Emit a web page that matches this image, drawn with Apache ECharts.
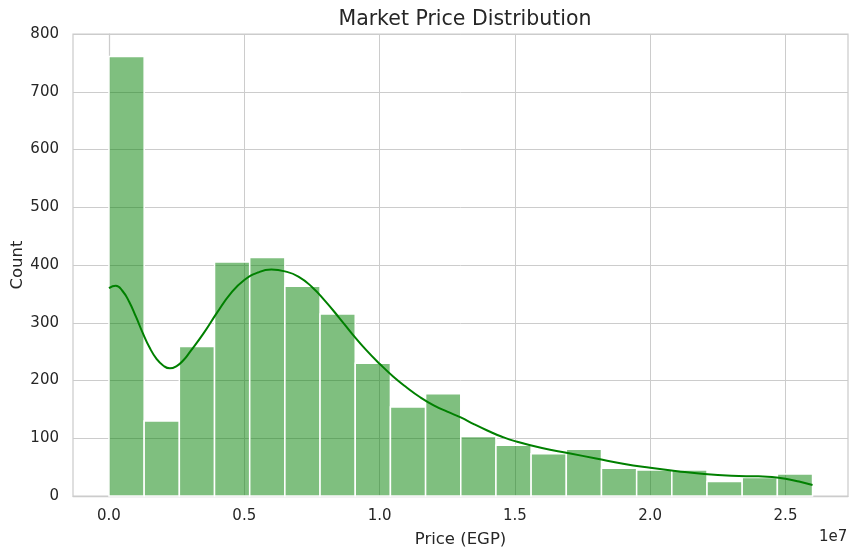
<!DOCTYPE html>
<html>
<head>
    <meta charset="utf-8">
    <title>Market Price Distribution</title>
    <script src="https://cdn.jsdelivr.net/npm/echarts@6/dist/echarts.min.js"></script>
</head>
<body style="margin:0;background:#fff">
<div id="main" style="width:858px;height:555px;"></div>
<script>
    // bin edges, in millions of EGP (axis shows them in units of 1e7)
    var binEdges = [0, 1.3, 2.6, 3.9, 5.2, 6.5, 7.8, 9.1, 10.4, 11.7, 13.0,
                    14.3, 15.6, 16.9, 18.2, 19.5, 20.8, 22.1, 23.4, 24.7, 26.0];
    var counts = [761, 130, 259, 405, 413, 363, 315, 230, 154, 177,
                  103, 88, 73, 81, 48, 45, 45, 25, 32, 38];

    // kde curve (x in millions, y in counts)
    var kdeX = [0, 0.25, 0.5, 0.75, 1.0, 1.25, 1.5, 1.75, 2.0, 2.25, 2.5, 2.75, 3.0, 3.5,
                4.0, 4.5, 5.0, 5.5, 6.0, 6.5, 7.0, 7.5, 8.0, 8.5, 9.0, 9.5, 10, 10.5,
                11, 11.5, 12, 12.5, 13, 13.5, 14, 14.5, 15, 16, 17, 18, 19, 20, 21, 22,
                23, 24, 24.5, 25, 25.5, 26];
    var kdeY = [360, 364, 355, 336, 310, 282, 257, 238, 226, 221, 225, 235, 250, 282,
                318, 351, 374, 387, 392, 389, 380, 362, 337, 309, 280, 253, 229, 207,
                188, 171, 157, 146, 136, 124, 113, 103, 95, 83, 74, 65, 56, 49, 43, 38,
                35, 34, 33, 30, 25, 19];

    var xTicks = [0, 5, 10, 15, 20, 25];

    var bars = [];
    for (var i = 0; i < counts.length; i++) {
        bars.push([binEdges[i], binEdges[i + 1], counts[i]]);
    }
    var kde = [];
    for (var j = 0; j < kdeX.length; j++) {
        kde.push([kdeX[j], kdeY[j]]);
    }

    var myChart = echarts.init(document.getElementById('main'));
    var txt = '#262626';
    var option = {
        animation: false,
        backgroundColor: '#fff',
        textStyle: {fontFamily: 'DejaVu Sans'},
        title: {
            text: 'Market Price Distribution',
            left: 460,
            textAlign: 'center',
            top: 4,
            textStyle: {fontSize: 20.5, fontWeight: 'normal', color: txt, fontFamily: 'DejaVu Sans'}
        },
        grid: {
            left: 73, right: 10, top: 34, bottom: 59,
            outerBoundsMode: 'none',
            containLabel: false,
            show: true, borderColor: '#cccccc', borderWidth: 1.25
        },
        xAxis: {
            type: 'value',
            min: -1.33,
            max: 27.31,
            name: 'Price (EGP)',
            nameLocation: 'middle',
            nameGap: 35,
            nameMoveOverlap: false,
            nameTextStyle: {fontSize: 16.5, color: txt},
            axisLine: {show: true, lineStyle: {color: '#cccccc', width: 1.25}},
            axisTick: {show: false, customValues: xTicks},
            axisLabel: {
                customValues: xTicks,
                fontSize: 15, color: txt, margin: 13,
                formatter: function (v) { return (v / 10).toFixed(1); }
            },
            splitLine: {show: true, lineStyle: {color: '#cccccc', width: 1}}
        },
        yAxis: {
            type: 'value',
            min: 0,
            max: 800,
            interval: 100,
            name: 'Count',
            nameLocation: 'middle',
            nameGap: 47,
            nameMoveOverlap: false,
            nameTextStyle: {fontSize: 16.5, color: txt},
            axisLine: {show: true, lineStyle: {color: '#cccccc', width: 1.25}},
            axisTick: {show: false},
            axisLabel: {fontSize: 15, color: txt, margin: 14},
            splitLine: {show: true, lineStyle: {color: '#cccccc', width: 1}}
        },
        graphic: [{
            type: 'text',
            left: 819,
            top: 530,
            style: {text: '1e7', fontSize: 15, fill: txt, fontFamily: 'DejaVu Sans'}
        }],
        series: [{
            type: 'custom',
            data: bars,
            z: 3,
            renderItem: function (params, api) {
                var p0 = api.coord([api.value(0), api.value(2)]);
                var p1 = api.coord([api.value(1), 0]);
                return {
                    type: 'rect',
                    shape: {x: p0[0], y: p0[1], width: p1[0] - p0[0], height: p1[1] - p0[1]},
                    style: {fill: 'rgba(0,128,0,0.5)', stroke: '#ffffff', lineWidth: 1.5}
                };
            }
        }, {
            type: 'line',
            data: kde,
            z: 4,
            smooth: 0.5,
            showSymbol: false,
            lineStyle: {color: '#008000', width: 2}
        }]
    };
    myChart.setOption(option);
</script>
</body>
</html>
